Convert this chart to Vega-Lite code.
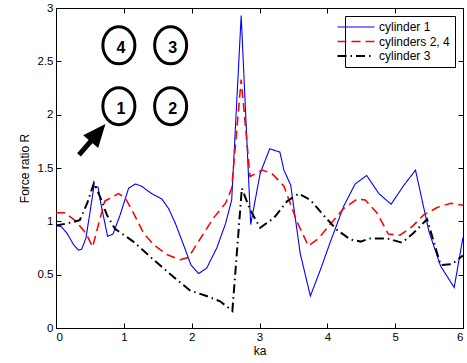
{
  "$schema": "https://vega.github.io/schema/vega-lite/v6.json",
  "width": 407,
  "height": 320,
  "autosize": "none",
  "padding": {"left": 56, "top": 8, "right": 4, "bottom": 35},
  "background": "white",
  "config": {
    "view": {"stroke": "black", "strokeWidth": 1},
    "font": "Liberation Sans",
    "axis": {
      "domainColor": "black", "tickColor": "black", "labelColor": "black", "titleColor": "black",
      "labelFont": "Liberation Sans", "titleFont": "Liberation Sans",
      "labelFontSize": 11.5, "titleFontSize": 12, "titleFontWeight": "normal",
      "grid": false, "tickSize": -5, "labelPadding": 8
    },
    "legend": {
      "labelFont": "Liberation Sans", "labelFontSize": 12, "labelColor": "black"
    }
  },
  "datasets": {
    "series": [
      {"s": "cylinder 1", "x": 0, "y": 0.96},
      {"s": "cylinder 1", "x": 0.08, "y": 0.95},
      {"s": "cylinder 1", "x": 0.16, "y": 0.89},
      {"s": "cylinder 1", "x": 0.26, "y": 0.78},
      {"s": "cylinder 1", "x": 0.33, "y": 0.73},
      {"s": "cylinder 1", "x": 0.38, "y": 0.74},
      {"s": "cylinder 1", "x": 0.44, "y": 0.84},
      {"s": "cylinder 1", "x": 0.50, "y": 1.08},
      {"s": "cylinder 1", "x": 0.56, "y": 1.33},
      {"s": "cylinder 1", "x": 0.62, "y": 1.32},
      {"s": "cylinder 1", "x": 0.66, "y": 1.17},
      {"s": "cylinder 1", "x": 0.76, "y": 0.86},
      {"s": "cylinder 1", "x": 0.84, "y": 0.88},
      {"s": "cylinder 1", "x": 0.94, "y": 1.05},
      {"s": "cylinder 1", "x": 1.07, "y": 1.31},
      {"s": "cylinder 1", "x": 1.17, "y": 1.35},
      {"s": "cylinder 1", "x": 1.26, "y": 1.33},
      {"s": "cylinder 1", "x": 1.41, "y": 1.26},
      {"s": "cylinder 1", "x": 1.56, "y": 1.21},
      {"s": "cylinder 1", "x": 1.66, "y": 1.12},
      {"s": "cylinder 1", "x": 1.76, "y": 0.98},
      {"s": "cylinder 1", "x": 1.88, "y": 0.78},
      {"s": "cylinder 1", "x": 1.99, "y": 0.59},
      {"s": "cylinder 1", "x": 2.10, "y": 0.51},
      {"s": "cylinder 1", "x": 2.22, "y": 0.56},
      {"s": "cylinder 1", "x": 2.37, "y": 0.75},
      {"s": "cylinder 1", "x": 2.50, "y": 0.98},
      {"s": "cylinder 1", "x": 2.59, "y": 1.20},
      {"s": "cylinder 1", "x": 2.73, "y": 2.93},
      {"s": "cylinder 1", "x": 2.87, "y": 0.97},
      {"s": "cylinder 1", "x": 3.01, "y": 1.45},
      {"s": "cylinder 1", "x": 3.15, "y": 1.68},
      {"s": "cylinder 1", "x": 3.30, "y": 1.65},
      {"s": "cylinder 1", "x": 3.36, "y": 1.48},
      {"s": "cylinder 1", "x": 3.46, "y": 1.34},
      {"s": "cylinder 1", "x": 3.60, "y": 0.70},
      {"s": "cylinder 1", "x": 3.75, "y": 0.30},
      {"s": "cylinder 1", "x": 3.90, "y": 0.55},
      {"s": "cylinder 1", "x": 4.04, "y": 0.80},
      {"s": "cylinder 1", "x": 4.24, "y": 1.14},
      {"s": "cylinder 1", "x": 4.41, "y": 1.35},
      {"s": "cylinder 1", "x": 4.58, "y": 1.43},
      {"s": "cylinder 1", "x": 4.76, "y": 1.26},
      {"s": "cylinder 1", "x": 4.94, "y": 1.16},
      {"s": "cylinder 1", "x": 5.13, "y": 1.34},
      {"s": "cylinder 1", "x": 5.30, "y": 1.48},
      {"s": "cylinder 1", "x": 5.50, "y": 0.90},
      {"s": "cylinder 1", "x": 5.67, "y": 0.58},
      {"s": "cylinder 1", "x": 5.87, "y": 0.38},
      {"s": "cylinder 1", "x": 6.00, "y": 0.85},
      {"s": "cylinders 2, 4", "x": 0, "y": 1.08},
      {"s": "cylinders 2, 4", "x": 0.13, "y": 1.08},
      {"s": "cylinders 2, 4", "x": 0.28, "y": 1.01},
      {"s": "cylinders 2, 4", "x": 0.44, "y": 0.89},
      {"s": "cylinders 2, 4", "x": 0.54, "y": 0.76},
      {"s": "cylinders 2, 4", "x": 0.63, "y": 0.98},
      {"s": "cylinders 2, 4", "x": 0.72, "y": 1.19},
      {"s": "cylinders 2, 4", "x": 0.92, "y": 1.26},
      {"s": "cylinders 2, 4", "x": 1.02, "y": 1.22},
      {"s": "cylinders 2, 4", "x": 1.14, "y": 1.08},
      {"s": "cylinders 2, 4", "x": 1.29, "y": 0.89},
      {"s": "cylinders 2, 4", "x": 1.44, "y": 0.78},
      {"s": "cylinders 2, 4", "x": 1.63, "y": 0.69},
      {"s": "cylinders 2, 4", "x": 1.83, "y": 0.64},
      {"s": "cylinders 2, 4", "x": 1.95, "y": 0.66},
      {"s": "cylinders 2, 4", "x": 2.13, "y": 0.84},
      {"s": "cylinders 2, 4", "x": 2.32, "y": 1.03},
      {"s": "cylinders 2, 4", "x": 2.50, "y": 1.17},
      {"s": "cylinders 2, 4", "x": 2.59, "y": 1.31},
      {"s": "cylinders 2, 4", "x": 2.73, "y": 2.33},
      {"s": "cylinders 2, 4", "x": 2.86, "y": 1.42},
      {"s": "cylinders 2, 4", "x": 3.04, "y": 1.48},
      {"s": "cylinders 2, 4", "x": 3.18, "y": 1.45},
      {"s": "cylinders 2, 4", "x": 3.36, "y": 1.33},
      {"s": "cylinders 2, 4", "x": 3.55, "y": 1.00},
      {"s": "cylinders 2, 4", "x": 3.72, "y": 0.77},
      {"s": "cylinders 2, 4", "x": 3.87, "y": 0.84},
      {"s": "cylinders 2, 4", "x": 4.04, "y": 0.97},
      {"s": "cylinders 2, 4", "x": 4.24, "y": 1.12},
      {"s": "cylinders 2, 4", "x": 4.44, "y": 1.21},
      {"s": "cylinders 2, 4", "x": 4.56, "y": 1.20},
      {"s": "cylinders 2, 4", "x": 4.73, "y": 1.08},
      {"s": "cylinders 2, 4", "x": 4.90, "y": 0.88},
      {"s": "cylinders 2, 4", "x": 5.07, "y": 0.87},
      {"s": "cylinders 2, 4", "x": 5.25, "y": 0.95},
      {"s": "cylinders 2, 4", "x": 5.42, "y": 1.06},
      {"s": "cylinders 2, 4", "x": 5.62, "y": 1.13},
      {"s": "cylinders 2, 4", "x": 5.82, "y": 1.17},
      {"s": "cylinders 2, 4", "x": 6.00, "y": 1.15},
      {"s": "cylinder 3", "x": 0, "y": 0.96},
      {"s": "cylinder 3", "x": 0.16, "y": 0.98},
      {"s": "cylinder 3", "x": 0.35, "y": 1.01},
      {"s": "cylinder 3", "x": 0.46, "y": 1.17},
      {"s": "cylinder 3", "x": 0.56, "y": 1.36},
      {"s": "cylinder 3", "x": 0.65, "y": 1.23},
      {"s": "cylinder 3", "x": 0.75, "y": 1.06},
      {"s": "cylinder 3", "x": 0.87, "y": 0.93},
      {"s": "cylinder 3", "x": 1.14, "y": 0.81},
      {"s": "cylinder 3", "x": 1.44, "y": 0.64},
      {"s": "cylinder 3", "x": 1.73, "y": 0.48},
      {"s": "cylinder 3", "x": 1.98, "y": 0.35},
      {"s": "cylinder 3", "x": 2.22, "y": 0.30},
      {"s": "cylinder 3", "x": 2.42, "y": 0.25},
      {"s": "cylinder 3", "x": 2.60, "y": 0.16},
      {"s": "cylinder 3", "x": 2.74, "y": 1.31},
      {"s": "cylinder 3", "x": 2.86, "y": 1.11},
      {"s": "cylinder 3", "x": 3.01, "y": 0.94},
      {"s": "cylinder 3", "x": 3.21, "y": 1.03},
      {"s": "cylinder 3", "x": 3.41, "y": 1.19},
      {"s": "cylinder 3", "x": 3.58, "y": 1.26},
      {"s": "cylinder 3", "x": 3.75, "y": 1.20},
      {"s": "cylinder 3", "x": 3.94, "y": 1.06},
      {"s": "cylinder 3", "x": 4.14, "y": 0.92},
      {"s": "cylinder 3", "x": 4.34, "y": 0.83},
      {"s": "cylinder 3", "x": 4.49, "y": 0.81},
      {"s": "cylinder 3", "x": 4.63, "y": 0.84},
      {"s": "cylinder 3", "x": 4.88, "y": 0.84},
      {"s": "cylinder 3", "x": 5.10, "y": 0.80},
      {"s": "cylinder 3", "x": 5.27, "y": 0.89},
      {"s": "cylinder 3", "x": 5.47, "y": 1.02},
      {"s": "cylinder 3", "x": 5.67, "y": 0.59},
      {"s": "cylinder 3", "x": 5.84, "y": 0.60},
      {"s": "cylinder 3", "x": 6.00, "y": 0.68}
    ],
    "labels": [
      {"n": "4", "x": 0.927, "y": 2.65},
      {"n": "3", "x": 1.69, "y": 2.65},
      {"n": "1", "x": 0.927, "y": 2.08},
      {"n": "2", "x": 1.69, "y": 2.08}
    ],
    "arrow": [
      {"x": 0.339, "y": 1.623, "x2": 0.62, "y2": 1.83}
    ]
  },
  "layer": [
    {
      "data": {"name": "series"},
      "mark": {"type": "line", "interpolate": "linear", "strokeCap": "butt"},
      "encoding": {
        "x": {"field": "x", "type": "quantitative", "scale": {"domain": [0, 6], "nice": false, "zero": false},
              "axis": {"orient": "bottom", "title": "ka", "values": [0,1,2,3,4,5,6], "titlePadding": 3}},
        "y": {"field": "y", "type": "quantitative", "scale": {"domain": [0, 3], "nice": false, "zero": false},
              "axis": {"orient": "left", "title": "Force ratio R", "values": [0,0.5,1,1.5,2,2.5,3], "format": "~g", "titlePadding": 6}},
        "order": {"field": "x", "type": "quantitative"},
        "color": {"field": "s", "type": "nominal", "title": null,
                  "scale": {"domain": ["cylinder 1", "cylinders 2, 4", "cylinder 3"], "range": ["#0000ff", "#ff0000", "#000000"]},
                  "legend": {"orient": "top-right", "offset": 8, "strokeColor": "black", "fillColor": "white", "padding": 5,
                             "symbolType": "M-3.7,0H3.7", "symbolSize": 100, "labelOffset": 17, "rowPadding": 2.5}},
        "strokeDash": {"field": "s", "type": "nominal", "title": null,
                  "scale": {"domain": ["cylinder 1", "cylinders 2, 4", "cylinder 3"], "range": [[1, 0], [9, 5], [9, 4, 1.5, 4]]}},
        "strokeWidth": {"field": "s", "type": "nominal", "title": null,
                  "scale": {"domain": ["cylinder 1", "cylinders 2, 4", "cylinder 3"], "range": [1.1, 2, 2]}}
      }
    },
    {
      "data": {"name": "labels"},
      "mark": {"type": "point", "shape": "M0,-1A0.866,1,0,1,1,0,1A0.866,1,0,1,1,0,-1Z", "size": 1369, "filled": false, "stroke": "black", "strokeWidth": 3, "opacity": 1},
      "encoding": {
        "x": {"field": "x", "type": "quantitative", "scale": {"domain": [0, 6], "nice": false, "zero": false},
              "axis": {"orient": "top", "title": null, "labels": false, "values": [0,1,2,3,4,5,6]}},
        "y": {"field": "y", "type": "quantitative", "scale": {"domain": [0, 3], "nice": false, "zero": false},
              "axis": {"orient": "right", "title": null, "labels": false, "values": [0,0.5,1,1.5,2,2.5,3]}}
      }
    },
    {
      "data": {"name": "labels"},
      "mark": {"type": "text", "font": "Liberation Sans", "fontWeight": "bold", "fontSize": 16, "dx": 2, "dy": 3, "baseline": "middle", "align": "center", "color": "black"},
      "encoding": {
        "x": {"field": "x", "type": "quantitative", "axis": null},
        "y": {"field": "y", "type": "quantitative", "axis": null},
        "text": {"field": "n"}
      }
    },
    {
      "data": {"name": "arrow"},
      "mark": {"type": "rule", "strokeWidth": 5, "color": "black", "strokeCap": "butt"},
      "encoding": {
        "x": {"field": "x", "type": "quantitative", "axis": null},
        "y": {"field": "y", "type": "quantitative", "axis": null},
        "x2": {"field": "x2"},
        "y2": {"field": "y2"}
      }
    },
    {
      "data": {"name": "arrow"},
      "mark": {"type": "point", "shape": "M0,-1L0.85,1L-0.85,1Z", "size": 529, "filled": true, "color": "black", "opacity": 1, "angle": 40},
      "encoding": {
        "x": {"field": "x2", "type": "quantitative", "axis": null},
        "y": {"field": "y2", "type": "quantitative", "axis": null}
      }
    }
  ],
  "resolve": {"axis": {"x": "independent", "y": "independent"}}
}
